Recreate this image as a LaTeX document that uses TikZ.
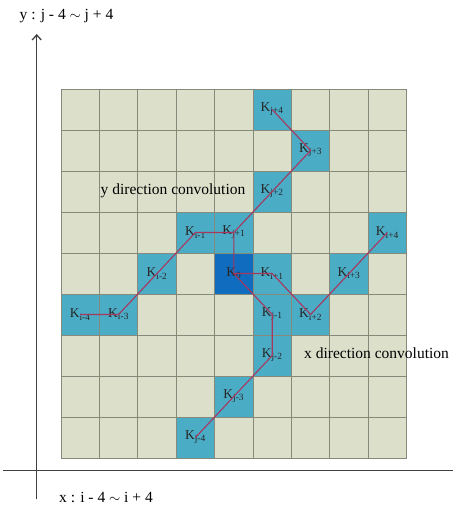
\documentclass[tikz,border=0pt]{standalone}
\usepackage{fontspec}
\setmainfont{Liberation Serif}
\usepackage{xcolor}
\usetikzlibrary{positioning,arrows.meta}

\definecolor{gridfill}{HTML}{DCE0CA}
\definecolor{gridline}{HTML}{858A7A}
\definecolor{kblue}{HTML}{4BACC6}
\definecolor{kdark}{HTML}{0F6CBF}
\definecolor{convred}{HTML}{A8375E}
\definecolor{axisgray}{HTML}{404040}

\begin{document}
\begin{tikzpicture}[
  x=1pt, y=-1pt,
  >=Stealth,
  cell/.style={draw=gridline, fill=gridfill, line width=0.9pt},
  kcell/.style={cell, fill=kblue},
  kcentre/.style={cell, fill=kdark},
  klab/.style={font=\fontsize{13.5}{14}\selectfont, inner sep=1pt, text=black!85},
  conv/.style={draw=convred, line width=1.1pt},
  note/.style={font=\fontsize{15.5}{17}\selectfont, inner sep=1pt},
  axis/.style={draw=axisgray, line width=1.3pt}
]
\useasboundingbox (0,0) rectangle (453,510);

% 9 x 9 grid
\foreach \c in {0,...,8}
  \foreach \r in {0,...,8}
    \path[cell] (61+\c*38.4, 89+\r*41) rectangle ++(38.4,41);

% kernel cells
\foreach \c/\r/\n/\t in {5/0/kjp4/{j+4}, 6/1/kjp3/{j+3}, 5/2/kjp2/{j+2}, 4/3/kjp1/{j+1},
    5/5/kjm1/{j-1}, 5/6/kjm2/{j-2}, 4/7/kjm3/{j-3}, 3/8/kjm4/{j-4},
    5/4/kip1/{i+1}, 6/5/kip2/{i+2}, 7/4/kip3/{i+3}, 8/3/kip4/{i+4},
    3/3/kim1/{i-1}, 2/4/kim2/{i-2}, 1/5/kim3/{i-3}, 0/5/kim4/{i-4}} {
  \path[kcell] (61+\c*38.4, 89+\r*41) rectangle ++(38.4,41);
  \node[klab] (\n) at (61+\c*38.4+19.2, 89+\r*41+20.5) {K\textsubscript{\t}};
}
\path[kcentre] (61+4*38.4, 89+4*41) rectangle ++(38.4,41);
\node[klab] (k0) at (61+4*38.4+19.2, 89+4*41+20.5) {K\textsubscript{0}};

% y direction
\draw[conv] (kjp4.center) -- (kjp3.center) -- (kjp1.center) -- (k0.center)
  -- (kjm1.center) -- (kjm2.center) -- (kjm4.center);
% x direction
\draw[conv] (kim4.center) -- (kim3.center) -- (kim1.center) -- (kjp1.center);
\draw[conv] (k0.center) -- (kip1.center) -- (kip2.center) -- (kip4.center);

\node[note] (ynote) at (173,191) {y direction convolution};
\node[note, anchor=west] (xnote) at (303,353) {x direction convolution};

% axes
\coordinate (xa) at (3,470.5);
\coordinate (xb) at (453,470.5);
\coordinate (ya) at (36.7,499);
\coordinate (yb) at (36.7,34);
\draw[axis] (xa) -- (xb);
\draw[axis, -{Straight Barb[length=5pt,width=9pt]}] (ya) -- (yb);
\node[note] (ylab) at (66.5,16) {y : j - 4 $\sim$ j + 4};
\node[note] (xlab) at (106,497) {x : i - 4 $\sim$ i + 4};
\end{tikzpicture}
\end{document}
